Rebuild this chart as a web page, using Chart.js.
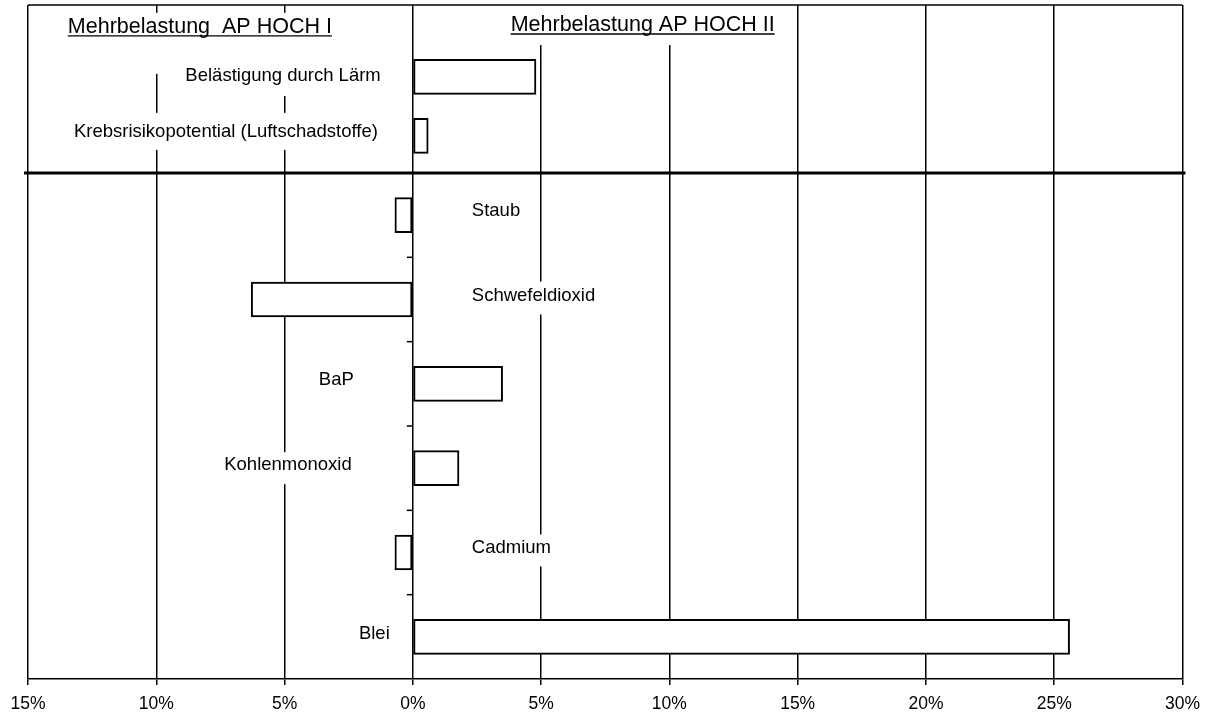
<!DOCTYPE html>
<html><head><meta charset="utf-8">
<script src="https://cdn.jsdelivr.net/npm/chart.js@4/dist/chart.umd.min.js"></script>
<style>html,body{margin:0;padding:0;background:#fff}#wrap{width:1209px;height:717px}</style>
</head><body><div id="wrap"><canvas id="c" width="1209" height="717"></canvas></div>
<script>
// ---- data ----
const upperCategories = ['Belästigung durch Lärm', 'Krebsrisikopotential (Luftschadstoffe)'];
const upperValues = [4.8, 0.6];
const lowerCategories = ['Staub', 'Schwefeldioxid', 'BaP', 'Kohlenmonoxid', 'Cadmium', 'Blei'];
const lowerValues = [-0.7, -6.3, 3.5, 1.8, -0.7, 25.6];
const xTickValues = [-15, -10, -5, 0, 5, 10, 15, 20, 25, 30];
const xTickLabels = ['15%', '10%', '5%', '0%', '5%', '10%', '15%', '20%', '25%', '30%'];
const sectionTitles = ['Mehrbelastung  AP HOCH I', 'Mehrbelastung AP HOCH II'];

const FONT = '"Liberation Sans", Arial, sans-serif';

// label placement (x in % units, y relative to the bar / section)
const labelSpecs = [
  {src: 'title', i: 0, at: -0.85, x: -8.3, align: 'center', size: 21.5, underline: true, up: 14, down: 47},
  {src: 'title', i: 1, at: -0.88, x: 8.96, align: 'center', size: 21.5, underline: true, up: 22, down: 20},
  {src: 'upper', i: 0, x: -1.25, align: 'right', dy: -1, up: 16, down: 20},
  {src: 'upper', i: 1, x: -1.36, align: 'right', dy: -4, up: 19, down: 18},
  {src: 'lower', i: 0, x: 2.3, align: 'left', dy: -4, up: 13, down: 19},
  {src: 'lower', i: 1, x: 2.3, align: 'left', dy: -4, up: 14, down: 19},
  {src: 'lower', i: 2, x: -2.3, align: 'right', dy: -4, up: 13, down: 19},
  {src: 'lower', i: 3, x: -2.38, align: 'right', dy: -3, up: 13, down: 19},
  {src: 'lower', i: 4, x: 2.3, align: 'left', dy: -5, up: 13, down: 19},
  {src: 'lower', i: 5, x: -0.9, align: 'right', dy: -3, up: 13, down: 19}
];

const overlay = {
  id: 'overlay',
  afterDatasetsDraw(chart) {
    const ctx = chart.ctx;
    const xs = chart.scales.x, yT = chart.scales.yTop, yL = chart.scales.y;
    const ca = chart.chartArea;
    ctx.save();
    // category boundary ticks on the 0% line (lower section)
    const x0 = xs.getPixelForValue(0);
    const step = yL.getPixelForValue(1) - yL.getPixelForValue(0);
    ctx.strokeStyle = '#000'; ctx.lineWidth = 1.5;
    for (let i = 1; i < lowerCategories.length; i++) {
      const yy = yL.getPixelForValue(i) - step / 2;
      ctx.beginPath(); ctx.moveTo(x0 - 6, yy); ctx.lineTo(x0, yy); ctx.stroke();
    }
    // labels with white boxes
    for (const s of labelSpecs) {
      let text, cy;
      if (s.src === 'title') { text = sectionTitles[s.i]; cy = yT.getPixelForValue(s.at); }
      else if (s.src === 'upper') { text = upperCategories[s.i]; cy = yT.getPixelForValue(s.i) + s.dy; }
      else { text = lowerCategories[s.i]; cy = yL.getPixelForValue(s.i) + s.dy; }
      const size = s.size || 18.5;
      ctx.font = size + 'px ' + FONT;
      const w = ctx.measureText(text).width;
      const ax = xs.getPixelForValue(s.x);
      let left = s.align === 'right' ? ax - w : s.align === 'center' ? ax - w / 2 : ax;
      ctx.fillStyle = '#fff';
      ctx.fillRect(left - 5, cy - s.up, w + 10, s.up + s.down);
      ctx.fillStyle = '#000';
      ctx.textAlign = 'left'; ctx.textBaseline = 'middle';
      ctx.fillText(text, left, cy);
      if (s.underline) {
        ctx.lineWidth = 1.4;
        const uy = cy + size * 0.42;
        ctx.beginPath(); ctx.moveTo(left, uy); ctx.lineTo(left + w, uy); ctx.stroke();
      }
    }
    // top border
    ctx.strokeStyle = '#000'; ctx.lineWidth = 1.5;
    ctx.beginPath(); ctx.moveTo(ca.left, ca.top); ctx.lineTo(ca.right, ca.top); ctx.stroke();
    // thick section separator
    ctx.lineWidth = 3;
    ctx.beginPath(); ctx.moveTo(ca.left - 4, yT.bottom); ctx.lineTo(ca.right + 3, yT.bottom); ctx.stroke();
    ctx.restore();
  }
};

new Chart(document.getElementById('c'), {
  type: 'bar',
  data: {
    datasets: [
      {
        label: 'Mehrbelastung (Lärm / Krebsrisiko)',
        data: upperValues.map((v, i) => ({x: v, y: i})),
        yAxisID: 'yTop', grouped: false,
        backgroundColor: '#fff', borderColor: '#000', borderWidth: 2,
        borderSkipped: false, barThickness: 35
      },
      {
        label: 'Mehrbelastung (Luftschadstoffe)',
        data: lowerValues,
        yAxisID: 'y', grouped: false,
        backgroundColor: '#fff', borderColor: '#000', borderWidth: 2,
        borderSkipped: false, barThickness: 35
      }
    ]
  },
  options: {
    indexAxis: 'y',
    responsive: false,
    animation: false,
    layout: {padding: {left: 28, right: 26, top: 5, bottom: 0}},
    plugins: {legend: {display: false}, tooltip: {enabled: false}},
    scales: {
      x: {
        type: 'linear', min: -15, max: 30,
        afterBuildTicks: s => { s.ticks = xTickValues.map(v => ({value: v})); },
        afterFit: s => { s.height = 38; },
        ticks: {
          callback: (v) => xTickLabels[xTickValues.indexOf(v)],
          color: '#000', font: {family: FONT, size: 17.5}, padding: 9, maxRotation: 0, autoSkip: false
        },
        grid: {color: '#000', lineWidth: 1.5, tickLength: 6, drawTicks: true},
        border: {display: true, color: '#000', width: 1.5}
      },
      y: {
        type: 'category', labels: lowerCategories, offset: true,
        display: false, position: 'left', stack: 'rows', stackWeight: 506
      },
      yTop: {
        type: 'linear', reverse: true, min: -1.22, max: 1.63, offset: false,
        display: false, position: 'left', stack: 'rows', stackWeight: 168
      }
    }
  },
  plugins: [overlay]
});
</script></body></html>
